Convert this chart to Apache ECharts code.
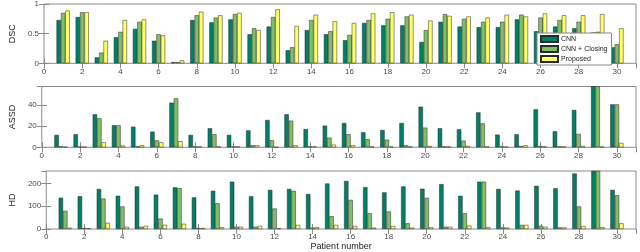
<!DOCTYPE html>
<html>
<head>
<meta charset="utf-8">
<script src="https://cdn.jsdelivr.net/npm/echarts@6/dist/echarts.min.js"></script>
<style>
html,body{margin:0;padding:0;background:#fff;}
#chart{width:640px;height:252px;}
</style>
</head>
<body>
<div id="chart"></div>
<script>
const patients = [1,2,3,4,5,6,7,8,9,10,11,12,13,14,15,16,17,18,19,20,21,22,23,24,25,26,27,28,29,30];
const seriesNames = ['CNN', 'CNN + Closing', 'Proposed'];

const dscCnn      = [0.73,0.78,0.10,0.44,0.58,0.38,0.02,0.73,0.69,0.74,0.49,0.62,0.22,0.56,0.49,0.39,0.68,0.64,0.64,0.36,0.70,0.62,0.61,0.61,0.74,0.54,0.62,0.59,0.52,0.27];
const dscClosing  = [0.85,0.86,0.18,0.53,0.70,0.49,0.02,0.81,0.77,0.83,0.59,0.78,0.27,0.73,0.54,0.48,0.73,0.75,0.79,0.56,0.83,0.75,0.70,0.70,0.82,0.77,0.73,0.70,0.53,0.32];
const dscProposed = [0.89,0.86,0.38,0.73,0.74,0.47,0.05,0.87,0.81,0.85,0.56,0.91,0.63,0.82,0.71,0.68,0.84,0.86,0.82,0.72,0.80,0.79,0.77,0.82,0.79,0.84,0.81,0.81,0.83,0.59];

const assdCnn      = [11.7,12.3,31.2,20.8,19.5,14.8,42.2,11.7,18.0,11.7,16.0,25.8,31.2,17.3,20.5,23.0,14.2,16.4,23.0,38.4,18.0,17.0,33.0,12.0,12.3,35.9,15.1,35.3,58.0,40.6];
const assdClosing  = [1.0,0.6,27.4,20.8,1.0,6.6,46.3,0.8,12.3,0.8,1.9,6.6,25.2,0.8,9.1,12.3,7.6,7.2,1.9,18.6,0.8,6.3,22.7,0.8,1.2,1.2,0.8,12.6,58.0,40.6];
const assdProposed = [0.5,0.5,4.7,1.6,1.9,4.7,5.7,0.8,0.8,0.8,1.9,0.3,1.9,0.8,2.5,1.9,0.6,0.6,0.8,1.2,0.8,1.2,0.8,0.5,1.9,0.8,0.8,1.2,0.6,4.1];

const hdCnn      = [137,144,176,146,187,151,183,139,168,208,144,172,176,154,200,211,184,161,187,177,197,146,208,176,169,190,179,244,256,172];
const hdClosing  = [80,4,134,99,10,46,180,4,113,10,10,90,168,6,56,128,69,77,25,137,10,69,208,7,18,14,7,99,256,148];
const hdProposed = [5.6,3,27,10,14,18,23,4,8,10,14,3,18,8,18,13,6,13,6,8,10,15,8,6,18,10,7,13,8,25];

const yTitles = ['DSC', 'ASSD', 'HD'];
const yMax = [1, 57.5, 255];
const yInterval = [0.5, 20, 100];

const colors = ['#008066', '#80bf66', '#ffff66'];
const FONT = '"Liberation Sans", Arial, Helvetica, sans-serif';
const AXC = '#8a8a8a';
const TXT = '#4a4a4a';

const gridDefs = [
  {left: 25.3, right: 4, top: 3.5, height: 59.8},
  {left: 25.3, right: 4, top: 86.5, height: 60.8},
  {left: 25.3, right: 4, top: 171, height: 60.7}
];
const nameGaps = [17, 14, 19];

const panelData = [
  [dscCnn, dscClosing, dscProposed],
  [assdCnn, assdClosing, assdProposed],
  [hdCnn, hdClosing, hdProposed]
];

const xAxes = [], yAxes = [], series = [];
gridDefs.forEach((g, i) => {
  const tick = {show: true, inside: true, length: 5, lineStyle: {color: AXC, width: 1}};
  xAxes.push({
    gridIndex: i, type: 'value', position: 'bottom', min: 0, max: 31, interval: 2,
    axisLine: {show: false}, axisTick: tick, splitLine: {show: false},
    axisLabel: {fontSize: 8, color: TXT, fontFamily: FONT, margin: 4, showMaxLabel: false},
    name: i === 2 ? 'Patient number' : '', nameLocation: 'middle', nameGap: 13,
    nameTextStyle: {fontSize: 9, color: '#222', fontFamily: FONT}
  });
  xAxes.push({
    gridIndex: i, type: 'value', position: 'top', min: 0, max: 31, interval: 2,
    axisLine: {show: false}, axisTick: tick, splitLine: {show: false},
    axisLabel: {show: false}
  });
  yAxes.push({
    gridIndex: i, type: 'value', position: 'left', min: 0, max: yMax[i], interval: yInterval[i],
    axisLine: {show: false}, axisTick: tick, splitLine: {show: false},
    axisLabel: {fontSize: 8, color: TXT, fontFamily: FONT, margin: 5, showMaxLabel: i === 0},
    name: yTitles[i], nameLocation: 'middle', nameGap: nameGaps[i], nameRotate: 90,
    nameTextStyle: {fontSize: 9, color: '#222', fontFamily: FONT}
  });
  yAxes.push({
    gridIndex: i, type: 'value', position: 'right', min: 0, max: yMax[i], interval: yInterval[i],
    axisLine: {show: false}, axisTick: tick, splitLine: {show: false},
    axisLabel: {show: false}
  });
  panelData[i].forEach((arr, k) => {
    series.push({
      name: seriesNames[k], type: 'bar',
      xAxisIndex: 2 * i, yAxisIndex: 2 * i,
      data: patients.map((p, j) => [p, arr[j]]),
      barWidth: 4.4, barGap: '0%',
      itemStyle: {color: colors[k], borderColor: '#2a2a2a', borderWidth: 0.5},
      clip: true, silent: true, animation: false
    });
  });
});

const chart = echarts.init(document.getElementById('chart'), null, {renderer: 'canvas'});
chart.setOption({
  animation: false,
  backgroundColor: '#fff',
  textStyle: {fontFamily: FONT},
  grid: gridDefs.map(g => Object.assign({show: true, borderColor: AXC, borderWidth: 1, backgroundColor: 'transparent'}, g)),
  xAxis: xAxes,
  yAxis: yAxes,
  legend: {
    data: seriesNames, orient: 'vertical', left: 537, top: 33,
    itemWidth: 17, itemHeight: 6, itemGap: 2, padding: [2, 4, 2, 3],
    backgroundColor: '#fff', borderColor: '#888', borderWidth: 1,
    icon: 'rect',
    textStyle: {fontSize: 7, color: '#222', fontFamily: FONT, lineHeight: 6, padding: [0, 0, 0, -2]},
    selectedMode: false
  },
  series: series
});
</script>
</body>
</html>
